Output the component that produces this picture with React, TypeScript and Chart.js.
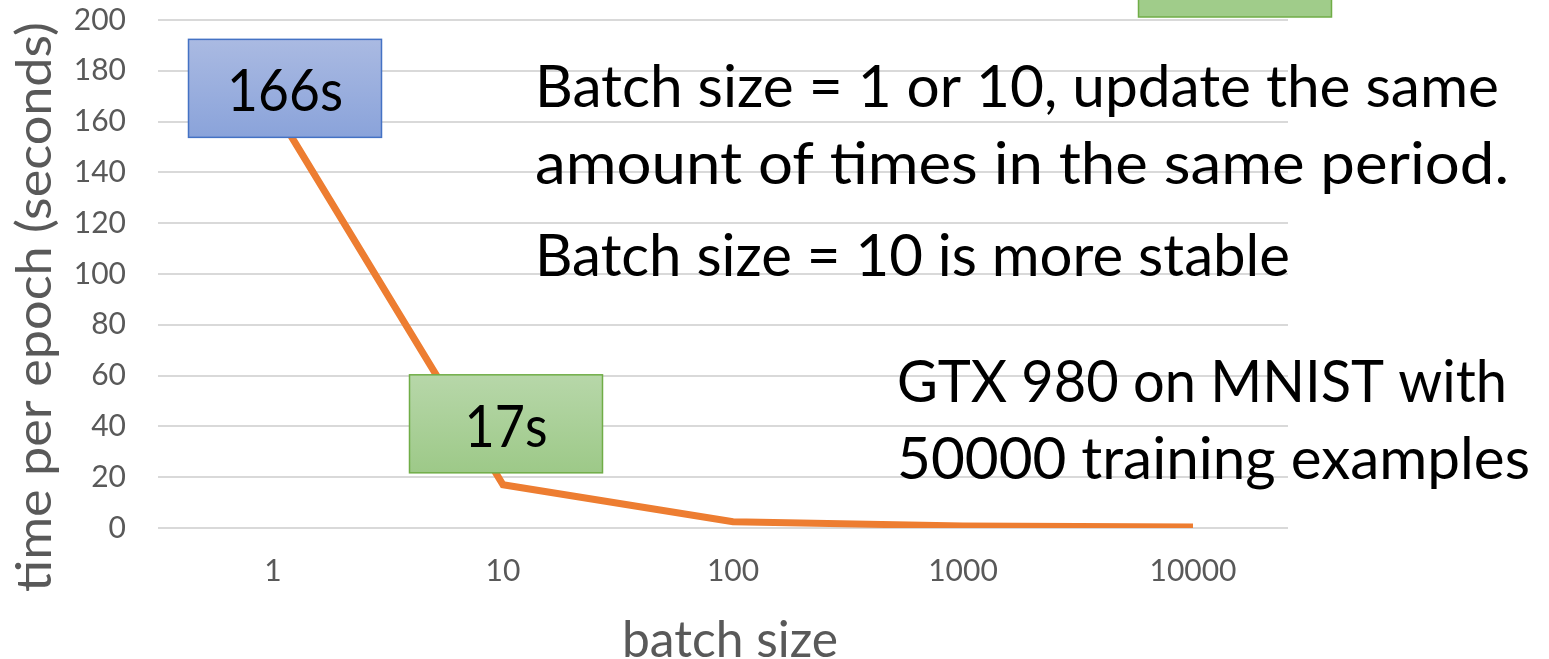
import { useEffect, useRef } from 'react';
import { Chart, registerables } from 'chart.js';

Chart.register(...registerables);

// ---- data ----
const categories = ['1', '10', '100', '1000', '10000'];
const timePerEpoch = [166, 17, 2.5, 0.8, 0.4];
const yMin = 0;
const yMax = 200;
const yStep = 20;
const xTitle = 'batch size';
const yTitle = 'time per epoch (seconds)';
const calloutLabels = ['166s', '17s', ''];
const calloutIndex = [0, 1, 4];
const noteLines = [
  'Batch size = 1 or 10, update the same',
  'amount of times in the same period.',
  'Batch size = 10 is more stable',
  'GTX 980 on MNIST with',
  '50000 training examples',
];

// ---- styling / layout ----
const FONT = 'Lato, "Open Sans", sans-serif';
const AXIS_COLOR = '#595959';
const GRID_COLOR = '#d9d9d9';
const LINE_COLOR = '#ED7D31';
const W = 1549;
const H = 659;
const PLOT_TOP = 20;
const PLOT_BOTTOM = 528;

// note text layout: [left, baseline, width]
const noteLayout: [number, number, number][] = [
  [535, 107, 964],
  [535, 184, 974],
  [535, 276, 755],
  [897, 402, 610],
  [897, 479, 633],
];

// callout boxes: offset of box centre from its data point, text width, colours
const calloutStyle = [
  { dx: 12, dy: -18, tw: 116, top: '#AABAE2', bottom: '#8AA3DA', border: '#4472C4', anchorTop: false },
  { dx: 3, dy: -61, tw: 83, top: '#B7D7A9', bottom: '#9DC988', border: '#70AD47', anchorTop: false },
  { dx: 42, dy: -52, tw: 0, top: '#A0CC8A', bottom: '#A0CC8A', border: '#70AD47', anchorTop: true },
];
const BOX_W = 193;
const BOX_H = 98;

function drawFitted(
  ctx: CanvasRenderingContext2D,
  text: string,
  x: number,
  y: number,
  size: number,
  targetW: number,
  align: CanvasTextAlign,
  color: string,
  rotate = 0
) {
  ctx.save();
  ctx.font = `${size}px ${FONT}`;
  const w = ctx.measureText(text).width || 1;
  const sx = targetW > 0 ? targetW / w : 1;
  ctx.translate(x, y);
  if (rotate) ctx.rotate(rotate);
  ctx.scale(sx, 1);
  ctx.textAlign = align;
  ctx.textBaseline = 'alphabetic';
  ctx.fillStyle = color;
  ctx.fillText(text, 0, 0);
  ctx.restore();
}

const decorPlugin = {
  id: 'decor',
  beforeDatasetsDraw(chart: any) {
    const { ctx, chartArea, scales } = chart;
    const y = scales.y;
    ctx.save();
    ctx.strokeStyle = GRID_COLOR;
    ctx.lineWidth = 2;
    for (let v = yMin; v <= yMax; v += yStep) {
      const py = Math.round(y.getPixelForValue(v));
      ctx.beginPath();
      ctx.moveTo(chartArea.left, py);
      ctx.lineTo(chartArea.right - 20, py);
      ctx.stroke();
    }
    ctx.restore();
  },
  afterDatasetsDraw(chart: any) {
    const { ctx, scales } = chart;
    const x = scales.x;
    const y = scales.y;
    calloutIndex.forEach((idx, i) => {
      const st = calloutStyle[i];
      const px = x.getPixelForValue(idx);
      const py = st.anchorTop ? y.getPixelForValue(yMax) : y.getPixelForValue(timePerEpoch[idx]);
      const cx = px + st.dx;
      const cy = py + st.dy;
      const left = cx - BOX_W / 2;
      const top = cy - BOX_H / 2;
      ctx.save();
      const g = ctx.createLinearGradient(0, top, 0, top + BOX_H);
      g.addColorStop(0, st.top);
      g.addColorStop(1, st.bottom);
      ctx.fillStyle = g;
      ctx.fillRect(left, top, BOX_W, BOX_H);
      ctx.strokeStyle = st.border;
      ctx.lineWidth = 1.5;
      ctx.strokeRect(left, top, BOX_W, BOX_H);
      ctx.restore();
      if (calloutLabels[i]) {
        drawFitted(ctx, calloutLabels[i], cx, top + 72, 58, st.tw, 'center', '#000000');
      }
    });
  },
  afterDraw(chart: any) {
    const { ctx, chartArea } = chart;
    noteLines.forEach((t, i) => {
      const [l, b, w] = noteLayout[i];
      drawFitted(ctx, t, l, b, 58, w, 'left', '#000000');
    });
    drawFitted(ctx, xTitle, (chartArea.left + chartArea.right) / 2 - 3, 657, 50, 216, 'center', AXIS_COLOR);
    drawFitted(ctx, yTitle, 51, 307, 48, 570, 'center', AXIS_COLOR, -Math.PI / 2);
  },
};

export default function App() {
  const ref = useRef<HTMLCanvasElement | null>(null);
  useEffect(() => {
    document.body.style.margin = '0';
    const canvas = ref.current;
    if (!canvas) return;
    const chart = new Chart(canvas, {
      type: 'line',
      data: {
        labels: categories,
        datasets: [
          {
            data: timePerEpoch,
            borderColor: LINE_COLOR,
            backgroundColor: LINE_COLOR,
            borderWidth: 7,
            pointRadius: 0,
            tension: 0,
            fill: false,
          },
        ],
      },
      options: {
        responsive: false,
        animation: false,
        layout: { padding: { top: PLOT_TOP, right: 241, left: 0, bottom: 0 } },
        plugins: { legend: { display: false }, tooltip: { enabled: false } },
        scales: {
          x: {
            offset: true,
            grid: { display: false, drawTicks: false },
            border: { display: false },
            ticks: {
              font: { family: FONT, size: 30 },
              color: AXIS_COLOR,
              padding: 25,
              maxRotation: 0,
              autoSkip: false,
            },
            afterFit: (s: any) => {
              s.height = H - PLOT_BOTTOM;
            },
          },
          y: {
            min: yMin,
            max: yMax,
            grid: { display: false, drawTicks: false },
            border: { display: false },
            ticks: {
              stepSize: yStep,
              font: { family: FONT, size: 30 },
              color: AXIS_COLOR,
              padding: 32,
            },
            afterFit: (s: any) => {
              s.width = 158;
              s.paddingTop = 0;
              s.paddingBottom = 0;
            },
          },
        },
      },
      plugins: [decorPlugin],
    });
    return () => chart.destroy();
  }, []);
  return <canvas ref={ref} width={W} height={H} style={{ display: 'block', width: W, height: H }} />;
}
